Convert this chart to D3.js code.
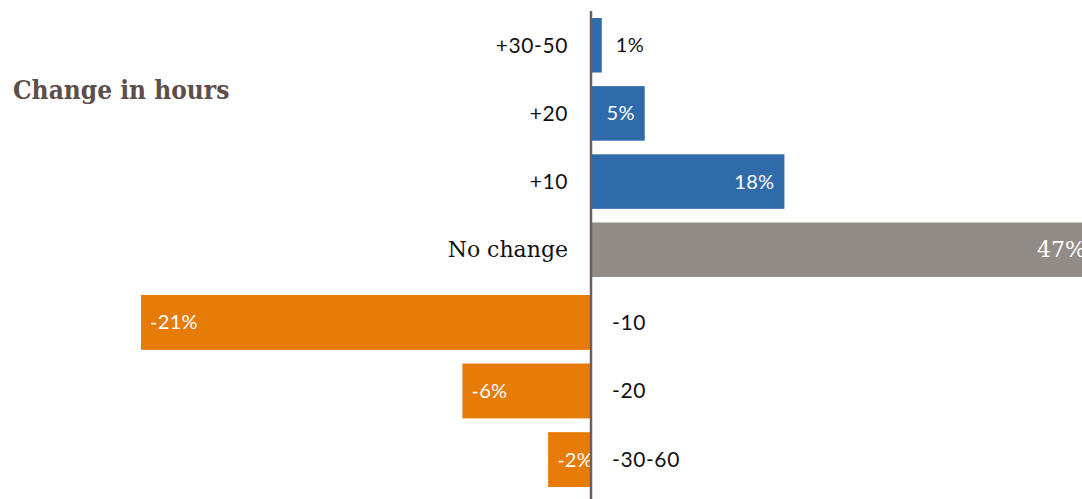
<!DOCTYPE html>
<html>
<head>
<meta charset="utf-8">
<script src="https://cdn.jsdelivr.net/npm/d3@7.9.0/dist/d3.min.js"></script>
<style>
  html, body { margin: 0; padding: 0; background: #fff; }
  svg { display: block; }
  .cat { font-family: Lato, "Noto Sans", sans-serif; font-size: 21px; letter-spacing: 0.6px; fill: #111; }
  .val { font-family: Lato, "Noto Sans", sans-serif; font-size: 20px; letter-spacing: 0.3px; }
  .serif { font-family: "DejaVu Serif", serif; font-size: 22px; letter-spacing: 0; }
</style>
</head>
<body>
<script>
// increases (and no change) - top part
const upCategories = ["+30-50", "+20", "+10", "No change"];
const upValues = [1, 5, 18, 47];
// decreases - bottom part
const downCategories = ["-10", "-20", "-30-60"];
const downValues = [21, 6, 2];

const title = "Change in hours";

const width = 1082, height = 499;
const axisX = 591;

const svg = d3.select("body").append("svg")
    .attr("width", width)
    .attr("height", height);

// two scales, the original draws the two halves at different widths
let xUp = d3.scaleLinear().domain([0, 47]).range([axisX, axisX + 505]);
let xDown = d3.scaleLinear().domain([0, 21]).range([axisX, axisX - 450]);

let yUp = d3.scaleBand().domain(upCategories).range([18, 277]).paddingInner(0.2);
let yDown = d3.scaleBand().domain(downCategories).range([295, 487]).paddingInner(0.2);

const blue = "#2f6aab", grey = "#918c87", orange = "#e77b07";

// top bars
let up = svg.append("g");
up.selectAll("rect")
    .data(upCategories)
    .join("rect")
    .attr("x", axisX)
    .attr("y", d => yUp(d))
    .attr("width", (d, i) => xUp(upValues[i]) - axisX)
    .attr("height", yUp.bandwidth())
    .attr("fill", d => d == "No change" ? grey : blue);

up.selectAll("text.cat")
    .data(upCategories)
    .join("text")
    .attr("class", d => d == "No change" ? "cat serif" : "cat")
    .attr("x", 568)
    .attr("y", d => yUp(d) + yUp.bandwidth() / 2)
    .attr("dy", "0.35em")
    .attr("text-anchor", "end")
    .text(d => d);

up.selectAll("text.val")
    .data(upCategories)
    .join("text")
    .attr("class", d => d == "No change" ? "val serif" : "val")
    .each(function(d, i) {
        let w = xUp(upValues[i]) - axisX;
        let t = d3.select(this);
        if (w < 30) {
            t.attr("x", xUp(upValues[i]) + 14).attr("text-anchor", "start").attr("fill", "#111");
        } else {
            t.attr("x", xUp(upValues[i]) - 10).attr("text-anchor", "end").attr("fill", "#fff");
        }
    })
    .attr("y", d => yUp(d) + yUp.bandwidth() / 2)
    .attr("dy", "0.35em")
    .text((d, i) => upValues[i] + "%");

// bottom bars
let down = svg.append("g");
down.selectAll("rect")
    .data(downCategories)
    .join("rect")
    .attr("x", (d, i) => xDown(downValues[i]))
    .attr("y", d => yDown(d))
    .attr("width", (d, i) => axisX - xDown(downValues[i]))
    .attr("height", yDown.bandwidth())
    .attr("fill", orange);

down.selectAll("text.cat")
    .data(downCategories)
    .join("text")
    .attr("class", "cat")
    .attr("x", 612)
    .attr("y", d => yDown(d) + yDown.bandwidth() / 2)
    .attr("dy", "0.35em")
    .text(d => d);

down.selectAll("text.val")
    .data(downCategories)
    .join("text")
    .attr("class", "val")
    .attr("fill", "#fff")
    .attr("x", (d, i) => xDown(downValues[i]) + 9)
    .attr("y", d => yDown(d) + yDown.bandwidth() / 2)
    .attr("dy", "0.35em")
    .text((d, i) => "-" + downValues[i] + "%");

// centre line
svg.append("line")
    .attr("x1", axisX).attr("x2", axisX)
    .attr("y1", 11).attr("y2", height)
    .attr("stroke", "#6e5f5a")
    .attr("stroke-width", 2.5);

svg.append("text")
    .attr("x", 13)
    .attr("y", 99)
    .attr("font-family", "'DejaVu Serif Condensed', 'DejaVu Serif', serif")
    .attr("font-stretch", "condensed")
    .attr("font-weight", "bold")
    .attr("font-size", 26)
    .attr("fill", "#5e4e49")
    .text(title);
</script>
</body>
</html>
